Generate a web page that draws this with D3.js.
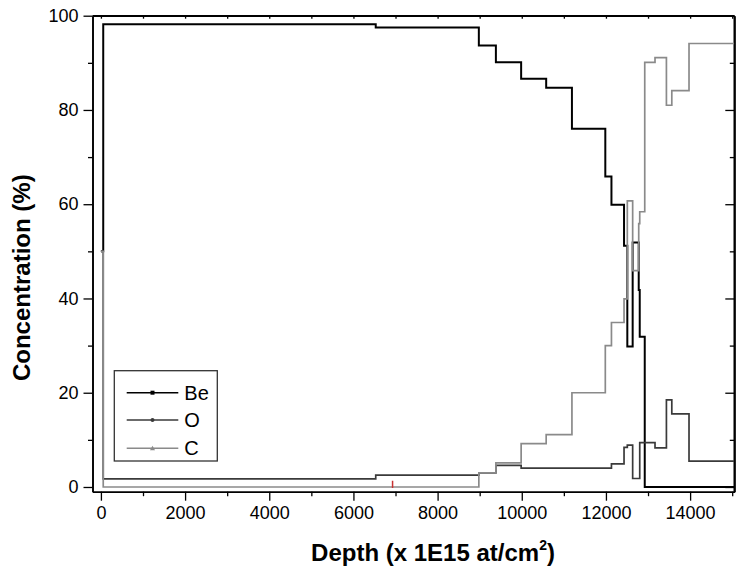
<!DOCTYPE html>
<html>
<head>
<meta charset="utf-8">
<script src="https://cdn.jsdelivr.net/npm/d3@7"></script>
<style>
  body { margin: 0; background: #fff; }
  text { font-family: "Liberation Sans", Arial, sans-serif; }
</style>
</head>
<body>
<div id="chart"></div>
<script>
// step boundaries (depth) and the value held from that depth on
let beDepth = [0, 55, 6530, 8980, 9385, 9985, 10580, 11192, 11985, 12131, 12430, 12508, 12635, 12779, 12803, 12922, 15050];
let beValue = [50, 98.2, 97.5, 93.7, 90.1, 86.6, 84.7, 76.0, 65.9, 59.9, 51.2, 29.8, 51.9, 41.8, 31.9, 0, 0];

let oDepth = [0, 55, 6530, 8980, 9385, 9985, 12131, 12430, 12508, 12635, 12803, 13166, 13437, 13565, 13974, 15050];
let oValue = [50, 1.7, 2.5, 3.0, 4.6, 4.0, 4.9, 8.4, 8.9, 1.8, 9.4, 8.3, 18.5, 15.5, 5.5, 5.5];

let cDepth = [0, 55, 8980, 9385, 9985, 10580, 11192, 11985, 12131, 12430, 12508, 12635, 12779, 12803, 12922, 13166, 13437, 13565, 13974, 15050];
let cValue = [50, 0, 3.0, 5.1, 9.2, 11.1, 20.0, 30.0, 34.9, 39.9, 60.7, 45.9, 55.9, 58.4, 90.1, 91.1, 81.0, 84.1, 94.1, 94.1];

let redDepth = [6930];
let redValue = [1.3];

let seriesNames = ["Be", "O", "C"];
let xTicks = [0, 2000, 4000, 6000, 8000, 10000, 12000, 14000];
let xMinor = [1000, 3000, 5000, 7000, 9000, 11000, 13000, 15000];
let yTicks = [0, 20, 40, 60, 80, 100];
let yMinor = [10, 30, 50, 70, 90];

function getConfig(){
    let width = 736;
    let height = 576;
    let margin = { top: 15.7, bottom: 84.3, left: 92.5, right: 1.7 };
    let bodyWidth = width - margin.left - margin.right;
    let bodyHeight = height - margin.top - margin.bottom;
    let svg = d3.select("#chart")
        .append("svg")
        .attr("width", width)
        .attr("height", height);
    let container = svg.append("g")
        .attr("transform", "translate(" + [margin.left, margin.top] + ")");
    return { width, height, margin, bodyWidth, bodyHeight, svg, container };
}

function getScales(config){
    let xScale = d3.scaleLinear().domain([-200, 15050]).range([0, config.bodyWidth]);
    let yScale = d3.scaleLinear().domain([-1, 100]).range([config.bodyHeight, 0]);
    return { xScale, yScale };
}

function drawAxes(scales, config){
    let { bodyWidth, bodyHeight, container } = config;
    let { xScale, yScale } = scales;

    let styleAxis = g => {
        g.selectAll("path").attr("stroke", "#000").attr("stroke-width", 1.6);
        g.selectAll("line").attr("stroke", "#000").attr("stroke-width", 1.3);
        g.selectAll("text").style("font-size", "18px").attr("fill", "#000");
    };

    container.append("g")
        .attr("transform", "translate(0," + bodyHeight + ")")
        .call(d3.axisBottom(xScale).tickValues(xMinor).tickSize(4.5).tickFormat("").tickSizeOuter(0))
        .call(styleAxis);
    container.append("g")
        .attr("transform", "translate(0," + bodyHeight + ")")
        .call(d3.axisBottom(xScale).tickValues(xTicks).tickSize(9).tickPadding(6).tickSizeOuter(0).tickFormat(d3.format("d")))
        .call(styleAxis);

    container.append("g")
        .call(d3.axisLeft(yScale).tickValues(yMinor).tickSize(4.5).tickFormat("").tickSizeOuter(0))
        .call(styleAxis);
    container.append("g")
        .call(d3.axisLeft(yScale).tickValues(yTicks).tickSize(9).tickPadding(5).tickSizeOuter(0))
        .call(styleAxis);

    // right and top, ticks pointing in
    container.append("g")
        .attr("transform", "translate(" + bodyWidth + ",0)")
        .call(d3.axisLeft(yScale).tickValues(yMinor).tickSize(4.5).tickFormat("").tickSizeOuter(0))
        .call(styleAxis);
    container.append("g")
        .attr("transform", "translate(" + bodyWidth + ",0)")
        .call(d3.axisLeft(yScale).tickValues(yTicks).tickSize(9).tickFormat("").tickSizeOuter(0))
        .call(styleAxis);
    container.append("g")
        .call(d3.axisBottom(xScale).tickValues(xTicks.concat(xMinor)).tickSize(3).tickFormat("").tickSizeOuter(0))
        .call(styleAxis);

    // frame edges
    container.append("line").attr("x1", 0).attr("x2", bodyWidth).attr("y1", 0).attr("y2", 0)
        .attr("stroke", "#000").attr("stroke-width", 1.3);
    container.append("line").attr("x1", bodyWidth).attr("x2", bodyWidth).attr("y1", 0).attr("y2", bodyHeight)
        .attr("stroke", "#000").attr("stroke-width", 1.6);

    container.append("text")
        .attr("transform", "translate(-62.5," + (bodyHeight / 2 + 24) + ") rotate(-90)")
        .attr("text-anchor", "middle")
        .style("font-size", "24px")
        .style("font-weight", "bold")
        .text("Concentration (%)");

    let xt = container.append("text")
        .attr("x", 340.5)
        .attr("y", bodyHeight + 69)
        .attr("text-anchor", "middle")
        .style("font-size", "24px")
        .style("font-weight", "bold");
    xt.append("tspan").text("Depth (x 1E15 at/cm");
    xt.append("tspan").attr("dy", -11).style("font-size", "14px").text("2");
    xt.append("tspan").attr("dy", 11).text(")");
}

function drawLines(scales, config){
    let { bodyWidth, bodyHeight, container, svg } = config;
    let { xScale, yScale } = scales;

    svg.append("defs").append("clipPath").attr("id", "plotclip")
        .append("rect").attr("width", bodyWidth).attr("height", bodyHeight);

    let plot = container.append("g").attr("clip-path", "url(#plotclip)");
    let line = d3.line()
        .x(d => xScale(d[0]))
        .y(d => yScale(d[1]))
        .curve(d3.curveStepAfter);

    let series = [
        { name: "Be", data: d3.zip(beDepth, beValue), color: "#000000", w: 2 },
        { name: "O", data: d3.zip(oDepth, oValue), color: "#3a3a3a", w: 1.7 },
        { name: "C", data: d3.zip(cDepth, cValue), color: "#8a8a8a", w: 1.7 }
    ];

    series.forEach(s => {
        plot.append("path")
            .attr("d", line(s.data))
            .attr("fill", "none")
            .attr("stroke", s.color)
            .attr("stroke-width", s.w);
    });

    plot.selectAll(".red")
        .data(d3.zip(redDepth, redValue))
        .enter()
        .append("line")
        .attr("x1", d => xScale(d[0]))
        .attr("x2", d => xScale(d[0]))
        .attr("y1", yScale(-0.2))
        .attr("y2", d => yScale(d[1]))
        .attr("stroke", "#c83232")
        .attr("stroke-width", 1.5);

    return series;
}

function legend(series, config){
    let { container } = config;
    let box = container.append("g").attr("transform", "translate(21.8,355)");
    box.append("rect")
        .attr("width", 103)
        .attr("height", 90.3)
        .attr("fill", "#fff")
        .attr("stroke", "#333")
        .attr("stroke-width", 1.3);
    let ys = [22, 49.3, 77.6];
    series.forEach((s, i) => {
        let g = box.append("g").attr("transform", "translate(0," + ys[i] + ")");
        g.append("line")
            .attr("x1", 12.4).attr("x2", 64)
            .attr("stroke", s.color).attr("stroke-width", 1.6);
        if(s.name == "Be"){
            g.append("rect").attr("x", 36.2).attr("y", -2).attr("width", 4).attr("height", 4).attr("fill", s.color);
        } else if(s.name == "O"){
            g.append("circle").attr("cx", 38.2).attr("r", 2).attr("fill", s.color);
        } else {
            g.append("path").attr("d", "M35.7,2 L38.2,-2.5 L40.7,2 Z").attr("fill", s.color);
        }
        g.append("text")
            .attr("x", 70)
            .attr("y", 7)
            .style("font-size", "20px")
            .text(seriesNames[i]);
    });
}

let config = getConfig();
let scales = getScales(config);
drawAxes(scales, config);
let drawn = drawLines(scales, config);
legend(drawn, config);
</script>
</body>
</html>
